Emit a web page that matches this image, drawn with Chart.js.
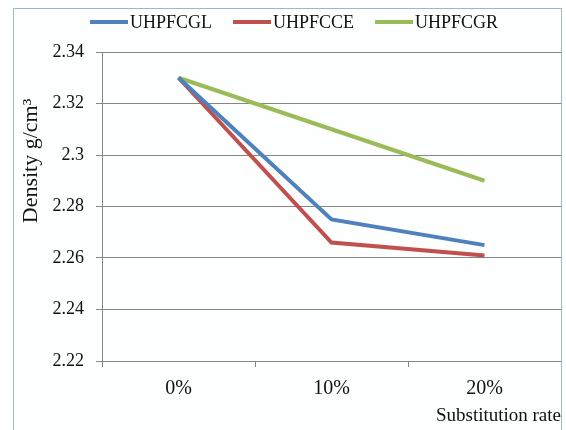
<!DOCTYPE html>
<html>
<head>
<meta charset="utf-8">
<script src="https://cdn.jsdelivr.net/npm/chart.js@4/dist/chart.umd.min.js"></script>
<style>
  html, body { margin: 0; padding: 0; background: #ffffff; }
  #frame {
    position: absolute; left: 13px; top: 8px; width: 547px; height: 430px;
    border: 1px solid #9fb6cc; border-bottom: none;
    background: #fdfefe;
  }
  #wrap { position: absolute; left: 0; top: 0; width: 547px; height: 422px; }
</style>
</head>
<body>
<div id="frame"><div id="wrap"><canvas id="c"></canvas></div></div>
<script>
// Substitution rates on the x axis
const categories = ['0%', '10%', '20%'];

// Density (g/cm³) per mix
const uhpfcgl = [2.33, 2.275, 2.265];
const uhpfcce = [2.33, 2.266, 2.261];
const uhpfcgr = [2.33, 2.31, 2.29];

const seriesNames = ['UHPFCGL', 'UHPFCCE', 'UHPFCGR'];
const seriesColors = ['#4f81bd', '#c0504d', '#9bbb59'];

const yMin = 2.22, yMax = 2.34, yStep = 0.02;

const serif = '"Liberation Serif", "Times New Roman", serif';

// Rotated y-axis title, placed a bit above the axis middle
const yTitlePlugin = {
  id: 'yTitle',
  afterDraw(chart) {
    const ctx = chart.ctx;
    ctx.save();
    ctx.translate(17, 152);
    ctx.rotate(-Math.PI / 2);
    ctx.font = '22px ' + serif;
    ctx.fillStyle = '#111';
    ctx.textAlign = 'center';
    ctx.textBaseline = 'middle';
    ctx.fillText('Density g/cm³', 0, 0);
    ctx.restore();
  }
};

// Compact legend row: short line sample, tight gap, then the series name
const lineLegendPlugin = {
  id: 'lineLegend',
  afterDraw(chart) {
    const ctx = chart.ctx;
    const sample = 38, gap = 2, itemGap = 21, y = 13;
    ctx.save();
    ctx.font = '18px ' + serif;
    ctx.textBaseline = 'middle';
    ctx.textAlign = 'left';
    let x = 76;
    chart.data.datasets.forEach(ds => {
      ctx.strokeStyle = ds.borderColor;
      ctx.lineWidth = 4;
      ctx.beginPath();
      ctx.moveTo(x, y);
      ctx.lineTo(x + sample, y);
      ctx.stroke();
      x += sample + gap;
      ctx.fillStyle = '#111';
      ctx.fillText(ds.label, x, y + 1);
      x += ctx.measureText(ds.label).width + itemGap;
    });
    ctx.restore();
  }
};

new Chart(document.getElementById('c'), {
  type: 'line',
  data: {
    labels: categories,
    datasets: [uhpfcgl, uhpfcce, uhpfcgr].map((d, i) => ({
      label: seriesNames[i],
      data: d,
      borderColor: seriesColors[i],
      backgroundColor: seriesColors[i],
      borderWidth: 4,
      pointRadius: 0,
      tension: 0
    }))
  },
  options: {
    responsive: true,
    maintainAspectRatio: false,
    animation: false,
    layout: { padding: { left: 0, right: 0, top: 43, bottom: 5 } },
    plugins: {
      tooltip: { enabled: false },
      legend: { display: false }
    },
    scales: {
      x: {
        offset: true,
        grid: {
          offset: true,
          drawOnChartArea: false,
          drawTicks: true,
          tickLength: 6,
          color: '#868686'
        },
        border: { color: '#868686', width: 1 },
        ticks: { color: '#111', font: { family: serif, size: 20, lineHeight: 1.0 }, padding: 12 },
        title: {
          display: true,
          text: 'Substitution rate',
          align: 'end',
          color: '#111',
          font: { family: serif, size: 19, lineHeight: 1.0 },
          padding: { top: -4, bottom: 0 }
        }
      },
      y: {
        min: yMin,
        max: yMax,
        afterFit(scale) { scale.width = 88; },
        grid: { color: '#868686', tickLength: 6, drawTicks: true },
        border: { color: '#868686', width: 1 },
        ticks: {
          stepSize: yStep,
          color: '#111',
          padding: 12,
          font: { family: serif, size: 18 },
          callback: v => String(parseFloat(Number(v).toFixed(2)))
        }
      }
    }
  },
  plugins: [yTitlePlugin, lineLegendPlugin]
});
</script>
</body>
</html>
